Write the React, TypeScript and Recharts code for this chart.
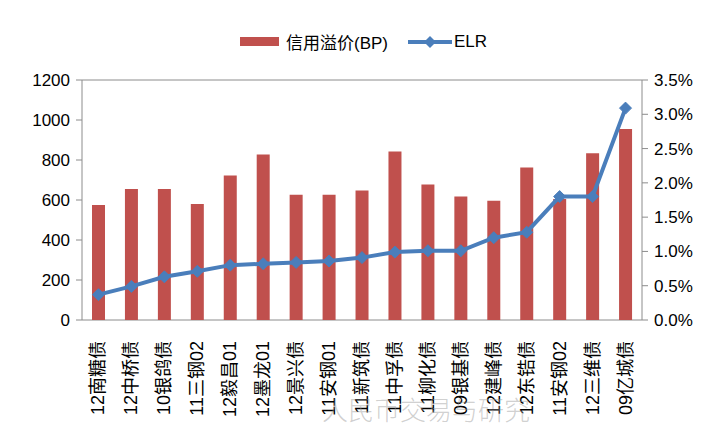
import { Bar, CartesianGrid, ComposedChart, Line, XAxis, YAxis } from "recharts"

const bonds = [
  "12南糖债", "12中桥债", "10银鸽债", "11三钢02", "12毅昌01", "12墨龙01", "12景兴债", "11安钢01", "11新筑债",
  "11中孚债", "11柳化债", "09银基债", "12建峰债", "12东锆债", "11安钢02", "12三维债", "09亿城债",
]
const spreadBp = [575, 655, 655, 580, 722, 827, 626, 626, 648, 842, 678, 618, 596, 762, 605, 834, 955]
const elr = [0.37, 0.49, 0.63, 0.71, 0.8, 0.82, 0.84, 0.86, 0.91, 0.99, 1.01, 1.01, 1.2, 1.28, 1.8, 1.8, 3.09]
const leftTicks = [0, 200, 400, 600, 800, 1000, 1200]
const rightTicks = [0, 0.5, 1, 1.5, 2, 2.5, 3, 3.5]
// category boundaries, for Excel-style tick marks between bars
const boundaries = Array.from({ length: bonds.length + 1 }, (_, i) => i)

const data = bonds.map((name, i) => ({ name, spread: spreadBp[i], elr: elr[i] }))

const FONT = '"Liberation Sans", "Noto Sans CJK SC", sans-serif'
const RED = "#c0504d"
const BLUE = "#4a7ebb"
const GRID = "#8c8c8c"

function BondTick({ x, y, payload }: any) {
  return (
    <text
      x={x}
      y={y + 13}
      transform={`rotate(-90, ${x}, ${y + 13})`}
      textAnchor="end"
      dominantBaseline="central"
      fontSize={18}
      fontFamily={FONT}
      fill="#000"
    >
      {payload.value}
    </text>
  )
}

function Diamond({ cx, cy }: any) {
  if (cx == null || cy == null) return null
  const r = 6
  return <path d={`M${cx},${cy - r}L${cx + r},${cy}L${cx},${cy + r}L${cx - r},${cy}Z`} fill={BLUE} stroke={BLUE} />
}

export default function App() {
  return (
    <div style={{ position: "absolute", left: 0, top: 0, width: 720, height: 444, background: "#fff", fontFamily: FONT }}>
      <ComposedChart width={720} height={444} data={data} margin={{ top: 80, right: 0, bottom: 0, left: 0 }}>
        <CartesianGrid stroke={GRID} vertical={false} />
        <XAxis
          xAxisId="edges"
          type="number"
          domain={[0, bonds.length]}
          ticks={boundaries}
          interval={0}
          tick={false}
          tickLine={{ stroke: GRID }}
          axisLine={{ stroke: GRID }}
          tickSize={5}
          height={0}
        />
        <XAxis
          dataKey="name"
          interval={0}
          tick={<BondTick />}
          tickLine={false}
          axisLine={false}
          height={124}
        />
        <YAxis
          yAxisId="left"
          domain={[0, 1200]}
          ticks={leftTicks}
          interval={0}
          width={82}
          tick={{ fill: "#000", fontSize: 17, fontFamily: FONT }}
          tickLine={{ stroke: GRID }}
          axisLine={{ stroke: GRID }}
          tickSize={6}
          tickMargin={6}
        />
        <YAxis
          yAxisId="right"
          orientation="right"
          domain={[0, 3.5]}
          ticks={rightTicks}
          interval={0}
          width={78}
          tickFormatter={(v: number) => `${v.toFixed(1)}%`}
          tick={{ fill: "#000", fontSize: 17, fontFamily: FONT }}
          tickLine={{ stroke: GRID }}
          axisLine={{ stroke: GRID }}
          tickSize={6}
          tickMargin={6}
        />
        <Bar yAxisId="left" dataKey="spread" fill={RED} barSize={13} isAnimationActive={false} />
        <Line
          yAxisId="right"
          dataKey="elr"
          stroke={BLUE}
          strokeWidth={4}
          dot={<Diamond />}
          activeDot={false}
          isAnimationActive={false}
        />
      </ComposedChart>
      <div style={{ position: "absolute", top: 29, left: 240, display: "flex", alignItems: "center", fontSize: 17, color: "#000" }}>
        <span style={{ display: "inline-block", width: 39, height: 9, background: RED, marginRight: 7 }} />
        <span>信用溢价(BP)</span>
        <svg width={44} height={14} style={{ marginLeft: 20, marginRight: 2 }}>
          <line x1={0} y1={7} x2={44} y2={7} stroke={BLUE} strokeWidth={4} />
          <path d="M22,1L28,7L22,13L16,7Z" fill={BLUE} />
        </svg>
        <span>ELR</span>
      </div>
      <div
        style={{
          position: "absolute",
          top: 390,
          left: 322,
          fontSize: 26,
          color: "rgba(150,150,150,0.45)",
          fontFamily: '"Noto Sans CJK SC", sans-serif',
          fontWeight: 300,
        }}
      >
        人民币交易与研究
      </div>
    </div>
  )
}
